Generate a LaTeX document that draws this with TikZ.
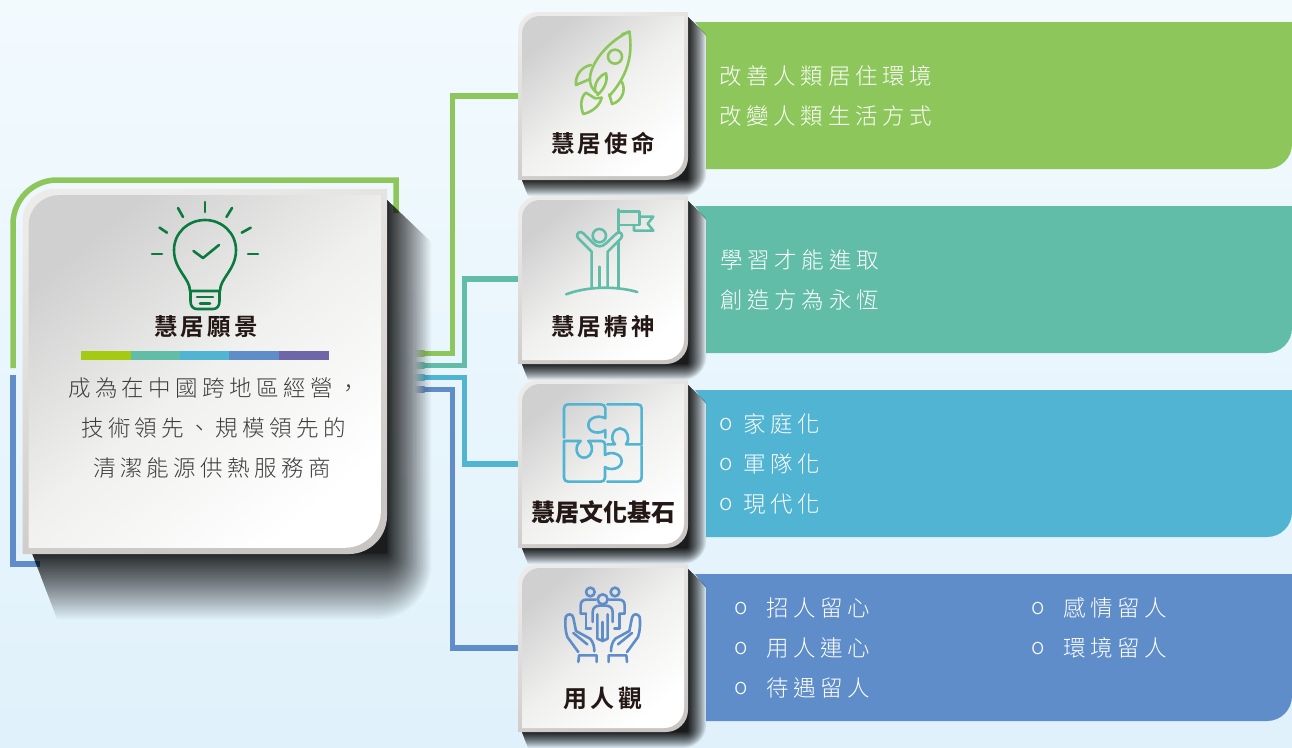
\documentclass[tikz,border=0pt]{standalone}
\usepackage{fontspec}
\newfontfamily\bodycjk[LetterSpace=19.5]{Noto Sans CJK TC Light}
\newfontfamily\panelcjk[LetterSpace=21]{Noto Sans CJK TC Light}
\newfontfamily\headcjk[LetterSpace=13,BoldFont={Noto Sans CJK TC Bold}]{Noto Sans CJK TC}
\newfontfamily\tightcjk{Noto Sans CJK TC}
\definecolor{cgreen}{HTML}{8DC75C}
\definecolor{cteal}{HTML}{61BDA7}
\definecolor{csky}{HTML}{50B4D2}
\definecolor{cblue}{HTML}{5F8DC9}
\definecolor{cpurple}{HTML}{6F65A9}
\definecolor{clime}{HTML}{A4CB12}
\definecolor{cbulb}{HTML}{0B7A3E}
\definecolor{cink}{HTML}{231815}
\definecolor{cbody}{HTML}{3E3C3B}
\definecolor{bgtop}{HTML}{F2FAFE}
\definecolor{bgbot}{HTML}{E0F1FB}
\definecolor{bgmid}{HTML}{E8F5FC}
\definecolor{bevtop}{HTML}{EDEBE9}
\definecolor{bevbot}{HTML}{C9C5C2}
\definecolor{facetl}{HTML}{D0D0D0}
\definecolor{facemid}{HTML}{F0F0EF}
\tikzset{
 conn/.style={line width=5.5pt,line join=miter},
 bodytext/.style={anchor=west,inner sep=0pt,text=cbody,font=\bodycjk\fontsize{22.5}{22.5}\selectfont},
 paneltext/.style={anchor=west,inner sep=0pt,text=white,font=\panelcjk\fontsize{22.5}{22.5}\selectfont},
 headtext/.style={inner sep=0pt,text=cink,font=\headcjk\bfseries\fontsize{23.5}{24}\selectfont},
 icon/.style={line width=2.6pt,line cap=round,line join=round},
 zoomed/.style={scale=1/3},
}
\newcommand{\castshadow}[7]{% x0 y0 x1 y1 D E power
 \foreach \i in {1,...,50}{
  \pgfmathsetmacro\dd{#5*pow(\i/50,#7)}
  \pgfmathsetmacro\ee{#6*pow(\i/50,#7)}
  \pgfmathsetmacro\rr{\dd*1.2+1}
  \fill[black,opacity=.035] (#3,#2) -- (#3+\dd,#2+\dd*.95) [rounded corners=\rr pt] -- (#3+\dd,#4+\ee) [sharp corners] -- (#1+\ee*.38,#4+\ee) -- (#1,#4) -- cycle;
 }
}
\newcommand{\cardbox}[7]{% x0 y0 x1 y1 bevel r1 r2
 \shade[top color=bevtop,bottom color=bevbot,shading angle=20]
  (#1,#4) [rounded corners=#6 pt] -- (#1,#2) [sharp corners] -- (#3,#2) [rounded corners=#7 pt] -- (#3,#4) [sharp corners] -- cycle;
 \shade[top color=facetl,bottom color=white,shading angle=40,middle color=facemid]
  (#1+#5,#4-#5) [rounded corners=#6 pt-2pt] -- (#1+#5,#2+#5) [sharp corners] -- (#3-#5,#2+#5) [rounded corners=#7 pt-2pt] -- (#3-#5,#4-#5) [sharp corners] -- cycle;
}
\begin{document}
\begin{tikzpicture}[x=1pt,y=-1pt]
\useasboundingbox (0,0) rectangle (1292,747);
\shade[top color=bgtop,bottom color=bgbot] (0,0) rectangle (1292,747);

% named ends
\coordinate (visionTop) at (396,213);
\coordinate (visionLeft) at (13,368);
\coordinate (visionLeftB) at (13,375);
\coordinate (visionBottom) at (40,564);
\coordinate (srcA) at (424,353.5);
\coordinate (srcB) at (424,365.5);
\coordinate (srcC) at (424,377.5);
\coordinate (srcD) at (424,389.5);
\coordinate (cardA) at (520,96);
\coordinate (cardB) at (520,279);
\coordinate (cardC) at (520,464);
\coordinate (cardD) at (520,648);
\coordinate (elA1) at (452.5,353.5); \coordinate (elA2) at (452.5,96);
\coordinate (elB1) at (464.5,365.5); \coordinate (elB2) at (464.5,279);
\coordinate (elC1) at (464.5,377.5); \coordinate (elC2) at (464.5,464);
\coordinate (elD1) at (452.5,389.5); \coordinate (elD2) at (452.5,648);
\coordinate (cornerTL) at (13,180); \coordinate (cornerTR) at (396,180);
\coordinate (cornerBL) at (13,564);

% connectors
\draw[conn,cgreen] (visionLeft) [rounded corners=44pt] -- (cornerTL) [sharp corners] -- (cornerTR) -- (visionTop);
\draw[conn,cblue] (visionLeftB) -- (cornerBL) -- (visionBottom);
\draw[conn,cgreen] (srcA) -- (elA1) -- (elA2) -- (cardA);
\draw[conn,cteal] (srcB) -- (elB1) -- (elB2) -- (cardB);
\draw[conn,csky] (srcC) -- (elC1) -- (elC2) -- (cardC);
\draw[conn,cblue] (srcD) -- (elD1) -- (elD2) -- (cardD);
\foreach \yy/\cc in {353.5/cgreen,365.5/cteal,377.5/csky,389.5/cblue}{
 \shade[left color=bgmid,right color=\cc] (414,\yy-2.75) rectangle (424.5,\yy+2.75);
}

% panels
\foreach \yy/\cc in {22/cgreen,206/cteal,390/csky,574/cblue}{
 \fill[\cc] (695,\yy) -- (1292,\yy) -- (1292,\yy+122) arc[start angle=0,end angle=90,radius=25] -- (706,\yy+147) -- (706,\yy+14) -- cycle;
}

% vision card
\castshadow{32}{200}{387}{553}{44}{66}{1.9}
\cardbox{22.5}{189}{387}{554}{6.2}{32}{38}

% small cards
\foreach \yy in {12,196,380,564}{
 \pgfmathsetmacro\yb{\yy+168}
 \castshadow{522}{\yy+5}{688}{\yb}{18.5}{16}{1.5}
 \cardbox{518}{\yy}{688}{\yb}{4}{20}{22}
}

% bulb icon
\begin{scope}[icon,cbulb]
 \draw (205,202) -- (205,212);
 \draw (178,208) -- (183,217);
 \draw (232,208) -- (226.5,217);
 \draw (159.5,227.6) -- (167,232.7);
 \draw (250.7,227.7) -- (241.7,232.7);
 \draw (152,254) -- (162,254);
 \draw (248,254) -- (258,254);
 \draw (190,291) .. controls (190,278) and (174,270) .. (174,250)
   .. controls (174,233) and (188,220) .. (205,220)
   .. controls (222,220) and (236,233) .. (236,250)
   .. controls (236,270) and (220,278) .. (220,291) -- cycle;
 \draw (190.5,291) -- (190.5,301) .. controls (190.5,306) and (193,309) .. (197,309) -- (213,309) .. controls (217,309) and (219.5,306) .. (219.5,301) -- (219.5,291);
 \draw (197,297) -- (213,297);
 \draw (200,303.5) -- (210,303.5);
 \draw (193.5,251) -- (203,258) -- (219,245);
\end{scope}

% rocket
\begin{scope}[shift={(510,0)},zoomed,icon,cgreen]
 \draw (358,95) .. controls (300,120) and (235,190) .. (240,245) .. controls (243,265) and (255,275) .. (267,282);
 \draw (358,95) .. controls (370,170) and (350,230) .. (298,288);
 \draw (336,103) -- (358,95);
 \draw (315,170) circle[radius=21];
 \draw (256,276) .. controls (250,250) and (270,225) .. (288,220) .. controls (295,245) and (280,270) .. (262,285);
 \draw (243,195) .. controls (215,200) and (195,225) .. (198,255) -- (238,238);
 \draw (335,245) .. controls (350,270) and (335,305) .. (306,312) -- (298,283);
 \draw (228,278) .. controls (212,290) and (210,320) .. (220,342) .. controls (250,335) and (270,315) .. (275,293) -- (255,295) -- (228,278);
\end{scope}

% flag person
\begin{scope}[shift={(510,190)},zoomed,icon,cteal]
 \draw (268,137) circle[radius=20];
 \draw (245,292) -- (245,185) -- (203,143) .. controls (195,130) and (212,120) .. (220,130) -- (250,160) .. controls (262,172) and (276,172) .. (288,160) -- (320,130) .. controls (330,120) and (342,135) .. (333,145) -- (293,185) -- (293,292);
 \draw (268,230) -- (268,292);
 \draw (325,58) -- (325,125);
 \draw (325,152) -- (325,292);
 \draw (325,65) -- (388,65) -- (388,105) -- (325,105);
 \draw (390,80) -- (430,80) -- (413,101) -- (430,122) -- (372,122) -- (372,105);
 \draw (168,313) .. controls (235,288) and (320,288) .. (382,306);
\end{scope}

% puzzle
\begin{scope}[shift={(510,375)},zoomed,icon,csky]
 \draw (162,188) -- (162,100) .. controls (162,92) and (167,88) .. (175,88) -- (272,88) .. controls (280,88) and (286,92) .. (286,100) -- (286,130) .. controls (270,120) and (235,125) .. (235,150) .. controls (235,175) and (270,178) .. (286,165) -- (286,188);
 \draw (292,88) -- (382,88) .. controls (390,88) and (395,92) .. (395,100) -- (395,208) -- (348,208) .. controls (362,190) and (350,160) .. (330,160) .. controls (310,160) and (298,190) .. (315,208) -- (292,208);
 \draw (162,198) -- (212,198) .. controls (190,215) and (200,248) .. (222,248) .. controls (245,248) and (255,215) .. (235,198) -- (275,198) .. controls (282,198) and (285,203) .. (285,210) -- (285,240) .. controls (300,228) and (335,235) .. (335,258) .. controls (335,282) and (300,288) .. (285,276) -- (285,308) .. controls (285,316) and (280,320) .. (272,320) -- (175,320) .. controls (167,320) and (162,316) .. (162,308) -- cycle;
 \draw (292,320) -- (382,320) .. controls (390,320) and (395,316) .. (395,308) -- (395,214);
\end{scope}

% people and hands
\begin{scope}[shift={(510,557)},zoomed,icon,cblue]
 \draw (278,127) circle[radius=15];
 \draw (248,195) -- (248,165) .. controls (248,152) and (258,146) .. (268,146) -- (288,146) .. controls (298,146) and (308,152) .. (308,165) -- (308,195);
 \draw (262,172) -- (262,245) -- (278,252) -- (293,245) -- (293,172);
 \draw (278,195) -- (278,252);
 \foreach \side in {1,-1}{
  \begin{scope}[shift={(278,0)},xscale=\side,shift={(-278,0)}]
   \draw (241,105) circle[radius=13];
   \draw (228,215) -- (243,215);
   \draw (228,215) -- (228,170);
   \draw (258,128) -- (228,128) .. controls (218,128) and (212,135) .. (212,145) -- (212,170) -- (228,170);
   \draw (205,315) -- (207,295) -- (260,295) -- (260,315);
   \draw (205,285) -- (172,240) .. controls (165,220) and (165,195) .. (167,180) .. controls (172,168) and (188,170) .. (190,182) -- (198,222) -- (240,245) .. controls (250,255) and (253,270) .. (253,283);
   \draw (190,228) -- (232,262);
  \end{scope}
 }
\end{scope}

% colour bar
\fill[clime] (81,351) rectangle (131,360);
\fill[cteal] (131,351) rectangle (180,360);
\fill[csky] (180,351) rectangle (229,360);
\fill[cblue] (229,351) rectangle (279,360);
\fill[cpurple] (279,351) rectangle (329,360);

% vision text
\node[headtext] (visionTitle) at (206,327) {慧居願景};
\node[bodytext] (visionA) at (68,388) {成為在中國跨地區經營，};
\node[bodytext] (visionB) at (81,428) {技術領先、規模領先的};
\node[bodytext] (visionC) at (93,468) {清潔能源供熱服務商};

% card labels
\node[headtext] (labelA) at (603,143) {慧居使命};
\node[headtext] (labelB) at (603,327) {慧居精神};
\node[headtext,font=\tightcjk\bfseries\fontsize{24}{24}\selectfont] (labelC) at (603,512) {慧居文化基石};
\node[headtext,font=\headcjk\bfseries\fontsize{24}{24}\selectfont] (labelD) at (603,698) {用人觀};

% panel text
\node[paneltext] (pA1) at (719,76) {改善人類居住環境};
\node[paneltext] (pA2) at (719,116) {改變人類生活方式};
\node[paneltext] (pB1) at (720,260) {學習才能進取};
\node[paneltext] (pB2) at (720,300) {創造方為永恆};
\foreach \yy/\tt/\nn in {424/家庭化/a,464/軍隊化/b,504/現代化/c}{
 \node[paneltext] (oC\nn) at (719,\yy) {o};
 \node[paneltext] (pC\nn) at (743,\yy) {\tt};
}
\foreach \yy/\tt/\nn in {608/招人留心/a,648/用人連心/b,688/待遇留人/c}{
 \node[paneltext] (oD\nn) at (734,\yy) {o};
 \node[paneltext] (pD\nn) at (766,\yy) {\tt};
}
\foreach \yy/\tt/\nn in {608/感情留人/d,648/環境留人/e}{
 \node[paneltext] (oD\nn) at (1031,\yy) {o};
 \node[paneltext] (pD\nn) at (1063,\yy) {\tt};
}
\end{tikzpicture}
\end{document}
